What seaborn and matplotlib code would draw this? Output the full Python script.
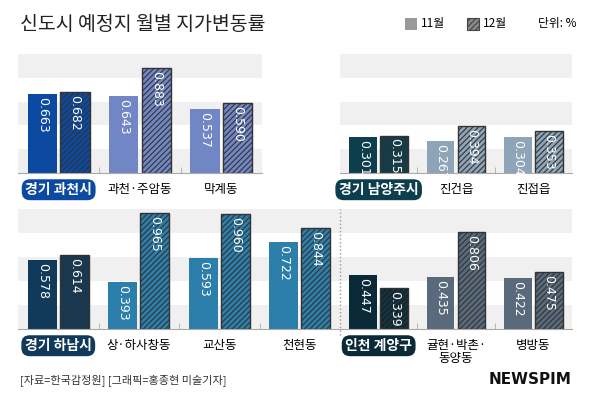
import matplotlib
matplotlib.use("Agg")
import matplotlib.pyplot as plt
import pandas as pd
import seaborn as sns
from matplotlib.patches import Rectangle

plt.rcParams["font.family"] = ["Noto Sans CJK KR", "Noto Sans CJK JP", "Noto Sans CJK SC", "DejaVu Sans"]
plt.rcParams["hatch.linewidth"] = 0.8

months = ["11월", "12월"]

gwacheon_regions = ["경기 과천시", "과천·주암동", "막계동"]
gwacheon_nov = [0.663, 0.643, 0.537]
gwacheon_dec = [0.682, 0.883, 0.590]

namyangju_regions = ["경기 남양주시", "진건읍", "진접읍"]
namyangju_nov = [0.301, 0.267, 0.304]
namyangju_dec = [0.315, 0.394, 0.353]

hanam_regions = ["경기 하남시", "상·하사창동", "교산동", "천현동"]
hanam_nov = [0.578, 0.393, 0.593, 0.722]
hanam_dec = [0.614, 0.965, 0.960, 0.844]

incheon_regions = ["인천 계양구", "귤현·박촌·\n동양동", "병방동"]
incheon_nov = [0.447, 0.435, 0.422]
incheon_dec = [0.339, 0.806, 0.475]

W, H = 600, 407
fig = plt.figure(figsize=(W / 100, H / 100), dpi=100)


def px_axes(x0, x1, ytop, ybot):
    return fig.add_axes([x0 / W, 1 - ybot / H, (x1 - x0) / W, (ybot - ytop) / H])


def panel(ax, regions, nov, dec, main_color, sub_color):
    df = pd.DataFrame({
        "region": regions * 2,
        "month": [months[0]] * len(regions) + [months[1]] * len(regions),
        "value": nov + dec,
    })
    sns.barplot(data=df, x="region", y="value", hue="month", ax=ax,
                width=0.8, gap=0.1, legend=False, palette=["#999999", "#999999"])
    ax.set_ylim(0, 1.0)
    ax.set_xlim(-0.5, len(regions) - 0.5)
    # background bands
    for lo in (0.0, 0.4, 0.8):
        ax.axhspan(lo, lo + 0.2, color="#f0f0f0", zorder=0, lw=0)
    n = len(regions)
    for i, p in enumerate(ax.patches[:2 * n]):
        k = i % n
        c = main_color if k == 0 else sub_color
        p.set_facecolor(c)
        val = nov[k] if i < n else dec[k]
        if i >= n:
            p.set_hatch("//////")
            p.set_edgecolor("#333333")
            p.set_linewidth(1.0)
        else:
            p.set_edgecolor(c)
            p.set_linewidth(0)
        cx = p.get_x() + p.get_width() / 2
        ax.text(cx, val - 0.025, f"{val:.3f}", rotation=-90, ha="center", va="top",
                color="white", fontsize=9, fontfamily="DejaVu Sans", zorder=5)
    ax.set_xlabel("")
    ax.set_ylabel("")
    ax.set_yticks([])
    for s in ("top", "right", "left"):
        ax.spines[s].set_visible(False)
    ax.spines["bottom"].set_color("#aaaaaa")
    ax.tick_params(axis="x", length=0, pad=7, labelsize=9)
    ax.set_xticks(range(n))
    ax.set_xticklabels(regions, linespacing=1.0)
    lab = ax.get_xticklabels()[0]
    lab.set_color("white")
    lab.set_fontweight("bold")
    lab.set_fontsize(10)
    lab.set_bbox(dict(boxstyle="round,pad=0.25,rounding_size=0.6", fc=main_color, ec="none"))
    ax.set_xticks([k + 0.5 for k in range(n - 1)], minor=True)
    ax.tick_params(axis="x", which="minor", length=4, color="#aaaaaa", direction="in")


ax1 = px_axes(18, 262, 54, 173)
panel(ax1, gwacheon_regions, gwacheon_nov, gwacheon_dec, "#0b4aa0", "#7186c4")
ax2 = px_axes(340, 572, 54, 173)
panel(ax2, namyangju_regions, namyangju_nov, namyangju_dec, "#0d3e4e", "#8ea4b8")
ax3 = px_axes(18, 340, 209, 329)
panel(ax3, hanam_regions, hanam_nov, hanam_dec, "#113a5a", "#2c7eab")
ax4 = px_axes(340, 572, 209, 329)
panel(ax4, incheon_regions, incheon_nov, incheon_dec, "#0b2a38", "#586a7c")
ax4.axvline(-0.5, ymin=-0.05, ymax=1.0, color="#999999", ls=":", lw=1, clip_on=False)

fig.text(20 / W, 1 - 24 / H, "신도시 예정지 월별 지가변동률", fontsize=14,
         va="center", color="#222222")
fig.patches.append(Rectangle((405 / W, 1 - 30 / H), 12 / W, 12 / H, transform=fig.transFigure,
                             fc="#999999", ec="none"))
fig.text(421 / W, 1 - 24 / H, "11월", fontsize=8.5, va="center")
fig.patches.append(Rectangle((467 / W, 1 - 30 / H), 12 / W, 12 / H, transform=fig.transFigure,
                             fc="#888888", ec="#444444", hatch="//////", lw=0.8))
fig.text(483 / W, 1 - 24 / H, "12월", fontsize=8.5, va="center")
fig.text(538 / W, 1 - 24 / H, "단위: %", fontsize=8.5, va="center")

fig.text(20 / W, 1 - 380 / H, "[자료=한국감정원] [그래픽=홍종현 미술기자]", fontsize=8,
         va="center", color="#333333")
fig.text(572 / W, 1 - 380 / H, "NEWSPIM", fontsize=11, fontweight="bold", ha="right",
         va="center", color="#111111", fontfamily="DejaVu Sans")

fig.savefig("out.png", dpi=100)
